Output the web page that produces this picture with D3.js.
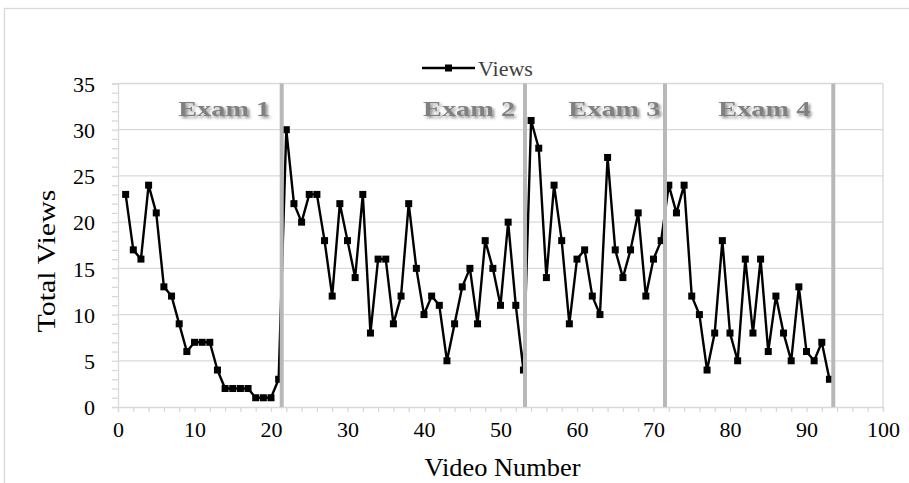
<!DOCTYPE html>
<html>
<head>
<meta charset="utf-8">
<script src="https://cdn.jsdelivr.net/npm/d3@7"></script>
<style>
  body { margin: 0; background: #fff; }
  svg { display: block; font-family: "Liberation Serif", "Times New Roman", serif; }
</style>
</head>
<body>
<svg id="chart"></svg>
<script>
// views per video, video number = position + 1
const views = [
  23, 17, 16, 24, 21, 13, 12, 9, 6, 7, 7, 7, 4, 2, 2, 2, 2, 1, 1, 1, 3,
  30, 22, 20, 23, 23, 18, 12, 22, 18, 14, 23, 8, 16, 16, 9, 12, 22, 15, 10, 12, 11, 5, 9, 13, 15, 9, 18, 15, 11, 20, 11, 4,
  31, 28, 14, 24, 18, 9, 16, 17, 12, 10, 27, 17, 14, 17, 21, 12, 16, 18,
  24, 21, 24, 12, 10, 4, 8, 18, 8, 5, 16, 8, 16, 6, 12, 8, 5, 13, 6, 5, 7, 3
];
const examNames = ['Exam 1', 'Exam 2', 'Exam 3', 'Exam 4'];
const examBreaks = [21.4, 53.2, 71.5, 93.5];
const examLabelEnds = [19.9, 51.9, 70.9, 90.5];
const xTicks = [0, 10, 20, 30, 40, 50, 60, 70, 80, 90, 100];
const yTicks = [0, 5, 10, 15, 20, 25, 30, 35];

const width = 909;
const height = 483;
const margin = { top: 83.5, right: 26, bottom: 76, left: 118 };

const svg = d3.select('#chart').attr('width', width).attr('height', height);
const dataset = views.map((v, i) => ({ video: i + 1, value: v }));

const xScale = d3.scaleLinear().domain([0, 100]).range([margin.left, width - margin.right]);
const yScale = d3.scaleLinear().domain([0, 35]).range([height - margin.bottom, margin.top]);

const grey = '#d9d9d9';

// outer chart frame
svg.append('rect')
  .attr('x', 4.5).attr('y', 8.5)
  .attr('width', width + 10).attr('height', height + 10)
  .attr('fill', 'none').attr('stroke', grey).attr('stroke-width', 1.3);

const defs = svg.append('defs');
const shadow = defs.append('filter').attr('id', 'shadow')
  .attr('x', '-10%').attr('y', '-30%').attr('width', '130%').attr('height', '170%');
shadow.append('feDropShadow')
  .attr('dx', 2).attr('dy', 2).attr('stdDeviation', 1.5)
  .attr('flood-color', '#000').attr('flood-opacity', 0.45);

// gridlines
svg.append('g')
  .selectAll('line')
  .data(yTicks.filter(d => d > 0))
  .join('line')
  .attr('x1', xScale(0)).attr('x2', xScale(100))
  .attr('y1', d => yScale(d)).attr('y2', d => yScale(d))
  .attr('stroke', grey).attr('stroke-width', 1.3);

// right border of plot area
svg.append('line')
  .attr('x1', xScale(100)).attr('x2', xScale(100))
  .attr('y1', yScale(35)).attr('y2', yScale(0))
  .attr('stroke', grey).attr('stroke-width', 1.3);

// x axis
const axisx = d3.axisBottom(xScale)
  .tickValues(d3.range(0, 101, 2))
  .tickSize(5)
  .tickFormat(d => (xTicks.includes(d) ? d : ''));
const gx = svg.append('g')
  .attr('transform', `translate(0,${yScale(0)})`)
  .call(axisx);
gx.select('.domain').attr('stroke', grey).attr('stroke-width', 1.3);
gx.selectAll('.tick line').attr('stroke', grey).attr('stroke-width', 1.3);
gx.selectAll('.tick text')
  .attr('font-size', 22).attr('font-family', '"Liberation Serif", serif')
  .attr('fill', '#000').attr('dy', '0.6em').attr('y', 17);

// y axis
const axisy = d3.axisLeft(yScale)
  .tickValues(d3.range(0, 36, 1))
  .tickSize(6)
  .tickFormat(d => (yTicks.includes(d) ? d : ''));
const gy = svg.append('g')
  .attr('transform', `translate(${xScale(0)},0)`)
  .call(axisy);
gy.select('.domain').attr('stroke', grey).attr('stroke-width', 1.3);
gy.selectAll('.tick line').attr('stroke', grey).attr('stroke-width', 1.3);
gy.selectAll('.tick text')
  .attr('font-size', 22).attr('font-family', '"Liberation Serif", serif')
  .attr('fill', '#000').attr('x', -23).attr('dy', '0.35em');

// axis titles
svg.append('text')
  .attr('x', (xScale(0) + xScale(100)) / 2 + 2)
  .attr('y', 476)
  .attr('text-anchor', 'middle')
  .attr('font-size', 26)
  .attr('textLength', 156).attr('lengthAdjust', 'spacingAndGlyphs')
  .text('Video Number');

svg.append('text')
  .attr('transform', 'translate(55,261) rotate(-90)')
  .attr('text-anchor', 'middle')
  .attr('font-size', 26)
  .attr('textLength', 143).attr('lengthAdjust', 'spacingAndGlyphs')
  .text('Total Views');

// series
const line = d3.line()
  .x(d => xScale(d.video))
  .y(d => yScale(d.value));

svg.append('path')
  .datum(dataset)
  .attr('fill', 'none')
  .attr('stroke', '#000')
  .attr('stroke-width', 2.4)
  .attr('stroke-linejoin', 'round')
  .attr('d', line);

svg.append('g')
  .selectAll('rect')
  .data(dataset)
  .join('rect')
  .attr('x', d => xScale(d.video) - 3.5)
  .attr('y', d => yScale(d.value) - 3.5)
  .attr('width', 7).attr('height', 7)
  .attr('fill', '#000');

// exam dividers
svg.append('g')
  .selectAll('line')
  .data(examBreaks)
  .join('line')
  .attr('x1', d => xScale(d)).attr('x2', d => xScale(d))
  .attr('y1', yScale(35)).attr('y2', yScale(0))
  .attr('stroke', '#b8b8b8').attr('stroke-width', 4);

// exam labels
svg.append('g')
  .selectAll('text')
  .data(examNames)
  .join('text')
  .attr('x', (d, i) => xScale(examLabelEnds[i]))
  .attr('y', 116)
  .attr('text-anchor', 'end')
  .attr('font-size', 22)
  .attr('font-weight', 'bold')
  .attr('fill', '#808080')
  .attr('textLength', 92).attr('lengthAdjust', 'spacingAndGlyphs')
  .attr('filter', 'url(#shadow)')
  .text(d => d);

// legend
const legend = svg.append('g').attr('transform', 'translate(422,68)');
legend.append('line')
  .attr('x1', 0).attr('x2', 53)
  .attr('stroke', '#000').attr('stroke-width', 2.4);
legend.append('rect')
  .attr('x', 23).attr('y', -3.5).attr('width', 7).attr('height', 7)
  .attr('fill', '#000');
legend.append('text')
  .attr('x', 56).attr('y', 0).attr('dy', '0.35em')
  .attr('font-size', 22)
  .attr('fill', '#404040')
  .text('Views');
</script>
</body>
</html>
